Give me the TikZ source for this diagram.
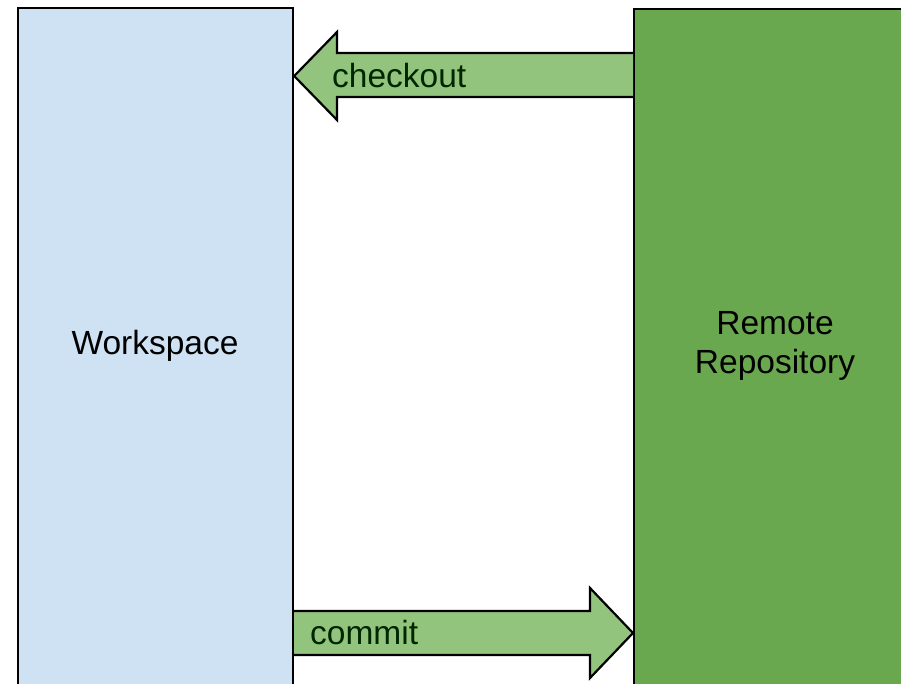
\documentclass[tikz,border=0pt]{standalone}
\usepackage{fontspec}
\setmainfont{Liberation Sans}
\begin{document}
\begin{tikzpicture}[x=1pt,y=-1pt,
  box/.style={draw=black, line width=2.2pt, inner sep=0pt, anchor=north west},
  arrowshape/.style={draw=black, line width=2.2pt, fill=arrowgreen, line join=miter},
  lbl/.style={font=\fontsize{33.5}{39}\selectfont, text=black, inner sep=0pt, align=center},
  arrowlbl/.style={font=\fontsize{33.5}{39}\selectfont, text=black!85!green, inner sep=0pt, anchor=base west}]
\definecolor{wsblue}{HTML}{CFE2F3}
\definecolor{remgreen}{HTML}{6AA84F}
\definecolor{arrowgreen}{HTML}{93C47D}
\useasboundingbox (0,0) rectangle (901,684);
\clip (0,0) rectangle (901,684);
\fill[white] (0,0) rectangle (901,684);
% boxes
\node[box, fill=wsblue, minimum width=275pt, minimum height=720pt] (ws) at (17,7) {};
\node[box, fill=remgreen, minimum width=300pt, minimum height=720pt] (rem) at (633,8) {};
% labels
\node[lbl] (wslbl) at (155,346) {Workspace};
\node[lbl] (remlbl) at (775,346) {Remote\\Repository};
% checkout arrow (right to left)
\coordinate (cotip) at (ws.east |- 0,76);
\draw[arrowshape] (rem.west |- 0,53) -- (337,53) -- (337,32) -- (cotip) -- (337,120) -- (337,97) -- (rem.west |- 0,97);
\node[arrowlbl] (colbl) at (332,88) {checkout};
% commit arrow (left to right)
\coordinate (cmtip) at (rem.west |- 0,633);
\draw[arrowshape] (ws.east |- 0,611) -- (590,611) -- (590,588) -- (cmtip) -- (590,678) -- (590,655) -- (ws.east |- 0,655);
\node[arrowlbl] (cmlbl) at (310,644) {commit};
\end{tikzpicture}
\end{document}
